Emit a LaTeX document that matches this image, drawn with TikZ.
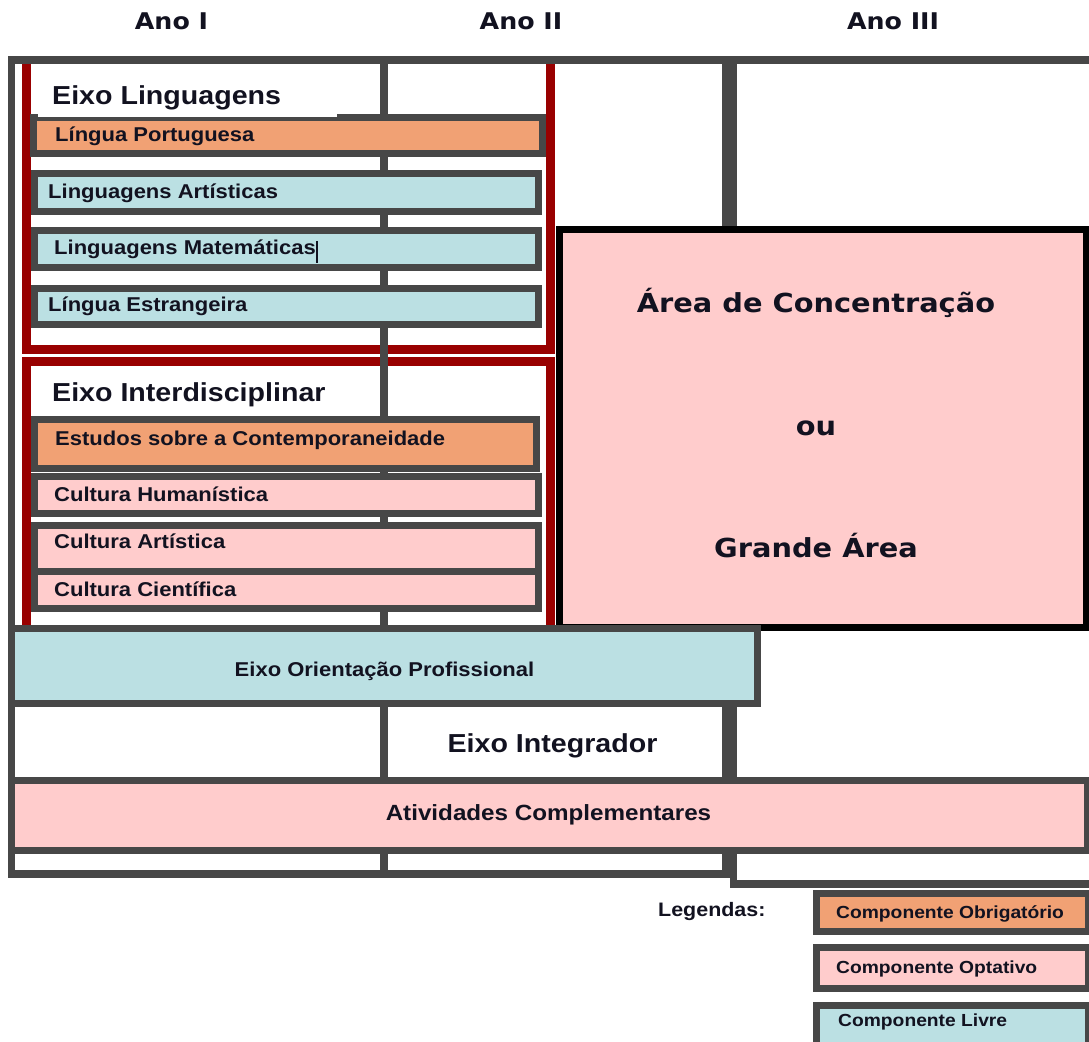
\documentclass[tikz,border=0pt]{standalone}
\usepackage{fontspec}
\usepackage{graphicx}
\newfontfamily\arl{Liberation Sans}[FakeStretch=1.1]
\newfontfamily\dvs{DejaVu Sans}[FakeStretch=1.1]
\definecolor{gline}{RGB}{71,71,71}
\definecolor{dred}{RGB}{153,0,0}
\definecolor{corange}{RGB}{241,161,116}
\definecolor{ccyan}{RGB}{187,224,227}
\definecolor{cpink}{RGB}{255,204,204}
\definecolor{tcol}{RGB}{18,18,32}
\tikzset{
  gframe/.style={draw=gline, line width=7.5pt},
  redframe/.style={draw=dred, line width=9pt},
  compbox/.style={draw=gline, line width=7pt},
  obrig/.style={compbox, fill=corange},
  optat/.style={compbox, fill=cpink},
  livre/.style={compbox, fill=ccyan},
  lbl/.style={font=\arl\bfseries\fontsize{20}{24}\selectfont, text=tcol, inner sep=0pt, anchor=base west},
  title/.style={font=\arl\bfseries\fontsize{26}{30}\selectfont, text=tcol, inner sep=0pt},
  big/.style={font=\dvs\bfseries\fontsize{26.2}{30}\selectfont, text=tcol, inner sep=0pt, anchor=base},
  hdr/.style={font=\dvs\bfseries\fontsize{23}{27}\selectfont, text=tcol, inner sep=0pt, anchor=base},
  leg/.style={font=\arl\bfseries\fontsize{17.5}{21}\selectfont, text=tcol, inner sep=0pt, anchor=base west}
}
\begin{document}
\begin{tikzpicture}[x=1pt,y=-1pt]
\path[use as bounding box, fill=white] (0,0) rectangle (1089,1041);
\clip (0,0) rectangle (1089,1041);

% headers
\node[hdr] (ano1) at (171.5,30) {Ano I};
\node[hdr] (ano2) at (521,30) {Ano II};
\node[hdr] (ano3) at (893,29.5) {Ano III};

% red axis frames
\draw[redframe] (26,62) -- (26,349) -- (550,349) -- (550,62);
\draw[redframe] (26,361) rectangle (550,640);

% column grid
\draw[gframe] (11.5,60) rectangle (726,874);
\draw[gframe] (733.5,60) rectangle (1095,884);
\draw[gframe] (384,60) -- (384,874);

% Eixo Linguagens components
\draw[obrig] (33,117) rectangle (542.5,153.5);
\fill[white] (38,64) rectangle (337,116.5);
\draw[livre] (34,173) rectangle (538,211);
\draw[livre] (34,230) rectangle (538,267.5);
\draw[livre] (34,288.5) rectangle (538,324);

\node[title, anchor=base west] (eling) at (52,104) {Eixo Linguagens};
\node[lbl] (lport) at (55,141.7) {Língua Portuguesa};
\node[lbl] (lart) at (48,198.3) {Linguagens Artísticas};
\node[lbl] (lmat) at (54,254) {Linguagens Matemáticas\hspace{0.5pt}\rule[-8.7pt]{1.2pt}{22pt}};
\node[lbl] (lest) at (48,311.7) {Língua Estrangeira};

% Eixo Interdisciplinar components
\draw[obrig] (34.5,419.5) rectangle (536,468.5);
\draw[optat] (34.5,476) rectangle (538.5,513.5);
\draw[optat] (34,525) rectangle (538.5,571);
\draw[optat] (34,571) rectangle (538.5,608.5);

\node[title, anchor=base west] (einter) at (52,401.7) {Eixo Interdisciplinar};
\node[lbl] (estc) at (55,445) {Estudos sobre a Contemporaneidade};
\node[lbl] (chum) at (54,501.7) {Cultura Humanística};
\node[lbl] (cart) at (54,548.3) {Cultura Artística};
\node[lbl] (ccie) at (54,596.7) {Cultura Científica};

% Area de concentracao
\draw[draw=black, line width=7pt, fill=cpink] (559.5,229.5) rectangle (1086,627);
\node[big] (area) at (816,312.7) {Área de Concentração};
\node[big] (ou) at (816,435) {ou};
\node[big] (grande) at (816,557.3) {Grande Área};

% Eixo Orientacao Profissional
\draw[livre] (11.5,628) rectangle (757.5,703.5);
\node[lbl, anchor=base] (orient) at (384.5,676) {Eixo Orientação Profissional};

% Eixo Integrador
\node[title, anchor=base] (integ) at (552.5,752.3) {Eixo Integrador};

% Atividades Complementares
\draw[optat] (11.5,780) rectangle (1087,850);
\node[lbl, anchor=base, font=\arl\bfseries\fontsize{22}{26}\selectfont] (ativ) at (548.5,820) {Atividades Complementares};

% Legend
\node[leg, font=\arl\bfseries\fontsize{19.5}{23}\selectfont] (legt) at (658,916.7) {Legendas:};
\draw[obrig] (816.5,893.7) rectangle (1088.5,931.7);
\draw[optat] (816.5,947) rectangle (1088.5,988.3);
\draw[livre] (816.5,1005) rectangle (1088.5,1060);
\node[leg] (lobr) at (836,918.3) {Componente Obrigatório};
\node[leg] (lopt) at (836,973.3) {Componente Optativo};
\node[leg] (lliv) at (838,1026.7) {Componente Livre};
\end{tikzpicture}
\end{document}
